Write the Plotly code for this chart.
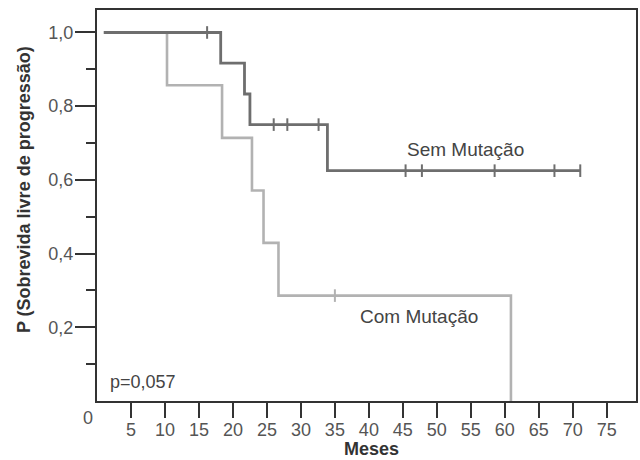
import plotly.graph_objects as go

# Kaplan-Meier step data (months, survival probability)
sem_t = [1, 18.2, 21.7, 22.5, 33.9, 71.1]
sem_s = [1.0, 0.917, 0.833, 0.75, 0.625, 0.625]
sem_cens_t = [16.2, 26.0, 28.0, 32.6, 45.4, 47.8, 58.5, 67.3, 71.1]
sem_cens_s = [1.0, 0.75, 0.75, 0.75, 0.625, 0.625, 0.625, 0.625, 0.625]

com_t = [1, 10.3, 18.4, 22.8, 24.5, 26.7, 60.9]
com_s = [1.0, 0.857, 0.714, 0.571, 0.429, 0.286, 0.0]
com_cens_t = [35.0]
com_cens_s = [0.286]

x_ticks = [5, 10, 15, 20, 25, 30, 35, 40, 45, 50, 55, 60, 65, 70, 75]
y_ticks = [0.2, 0.4, 0.6, 0.8, 1.0]
y_labels = ["0,2", "0,4", "0,6", "0,8", "1,0"]

SEM_C = "#6e6e6e"
COM_C = "#b2b2b2"
FONT = "Liberation Sans, Arial, sans-serif"

fig = go.Figure()
fig.add_trace(go.Scatter(x=com_t, y=com_s, mode="lines", line_shape="hv",
                         line=dict(color=COM_C, width=2.6), showlegend=False))
fig.add_trace(go.Scatter(x=com_cens_t, y=com_cens_s, mode="markers",
                         marker=dict(symbol="line-ns", size=9, line=dict(color=COM_C, width=2)),
                         showlegend=False))
fig.add_trace(go.Scatter(x=sem_t, y=sem_s, mode="lines", line_shape="hv",
                         line=dict(color=SEM_C, width=2.8), showlegend=False))
fig.add_trace(go.Scatter(x=sem_cens_t, y=sem_cens_s, mode="markers",
                         marker=dict(symbol="line-ns", size=9, line=dict(color=SEM_C, width=2)),
                         showlegend=False))

fig.update_layout(
    width=640, height=460,
    margin=dict(l=97, r=2, t=10, b=59),
    paper_bgcolor="white", plot_bgcolor="white",
    font=dict(family=FONT, color="#555555", size=18),
    xaxis=dict(range=[0, 79.3], tickvals=x_ticks, ticks="outside", ticklen=15,
               tickwidth=2, tickcolor="#333333", showline=True, linewidth=2,
               linecolor="#333333", mirror=True, showgrid=False, zeroline=False,
               ticklabelstandoff=-4,
               tickfont=dict(size=18, color="#555555")),
    yaxis=dict(range=[0, 1.061], tickvals=y_ticks, ticktext=y_labels, ticks="outside",
               ticklen=20, tickwidth=2, tickcolor="#333333", showline=True, linewidth=2,
               linecolor="#333333", mirror=True, showgrid=False, zeroline=False,
               ticklabelstandoff=-2,
               tickfont=dict(size=18, color="#555555"),
               minor=dict(tickvals=[0.1, 0.3, 0.5, 0.7, 0.9], ticks="outside", ticklen=9,
                          tickwidth=2, tickcolor="#333333", showgrid=False)),
    annotations=[
        dict(text="Sem Mutação", x=54.2, y=0.683, xref="x", yref="y", showarrow=False,
             xanchor="center", yanchor="middle", font=dict(size=19, color="#444444")),
        dict(text="Com Mutação", x=47.3, y=0.229, xref="x", yref="y", showarrow=False,
             xanchor="center", yanchor="middle", font=dict(size=19, color="#444444")),
        dict(text="p=0,057", x=1.57, y=0.0525, xref="x", yref="y", xanchor="left",
             yanchor="middle", showarrow=False, font=dict(size=18, color="#444444")),
        dict(text="0", x=-0.0166, y=-0.0435, xref="paper", yref="paper", showarrow=False,
             xanchor="center", yanchor="middle", font=dict(size=18, color="#555555")),
        dict(text="<b>P (Sobrevida livre de progressão)</b>", x=-0.135, y=0.54,
             xref="paper", yref="paper", textangle=-90, showarrow=False,
             xanchor="center", yanchor="middle", font=dict(size=18, color="#333333")),
        dict(text="<b>Meses</b>", x=0.51, y=-0.1215, xref="paper", yref="paper",
             xanchor="center", yanchor="middle", showarrow=False, borderpad=0,
             font=dict(size=18, color="#333333")),
    ],
)

fig.write_html("out.html", config={"displayModeBar": False},
               post_script="document.body.style.margin='0';document.body.style.padding='0';")
